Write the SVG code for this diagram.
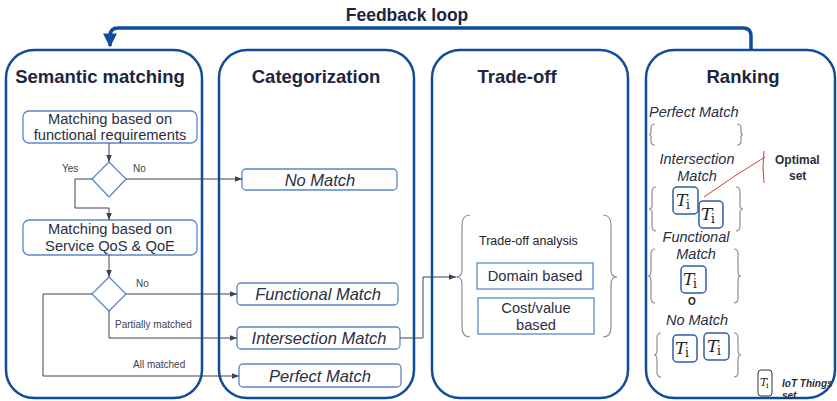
<svg xmlns="http://www.w3.org/2000/svg" width="837" height="401" viewBox="0 0 837 401">
<defs>
<style>
.cont{fill:#fff;stroke:#0f4c9c;stroke-width:2.5}
.box{fill:#fff;stroke:#5a88c8;stroke-width:1.3}
.title{font-family:"Liberation Sans",Arial,sans-serif;font-weight:bold;font-size:18.5px;fill:#1d2540;text-anchor:middle}
.t{font-family:"Liberation Sans",Arial,sans-serif;font-size:14.7px;fill:#2a2f3f;text-anchor:middle}
.ti{font-family:"Liberation Sans",Arial,sans-serif;font-size:16.5px;font-style:italic;fill:#2a2f3f;text-anchor:middle}
.tr{font-family:"Liberation Sans",Arial,sans-serif;font-size:14.5px;font-style:italic;fill:#2a2f3f;text-anchor:middle}
.lbl{font-family:"Liberation Sans",Arial,sans-serif;font-size:10px;fill:#3a3f50}
.con{fill:none;stroke:#3b4257;stroke-width:1}
.brace{fill:none;stroke:#8a8f9c;stroke-width:1.2}
.tbox{fill:#fff;stroke:#2f5fa5;stroke-width:1.5}
.math{font-family:"DejaVu Serif","Liberation Serif",serif;font-style:italic;font-size:17px;fill:#222}
.sub{font-family:"DejaVu Serif","Liberation Serif",serif;font-size:12px;fill:#222}
</style>
<marker id="ah" viewBox="0 0 10 10" refX="10" refY="5" markerWidth="7" markerHeight="7" orient="auto" markerUnits="userSpaceOnUse"><path d="M0,1 L10,5 L0,9 z" fill="#3b4257"/></marker>
<marker id="bh" viewBox="0 0 10 10" refX="9" refY="5" markerWidth="4" markerHeight="4" orient="auto"><path d="M0,0 L10,5 L0,10 z" fill="#0f4c9c"/></marker>
</defs>
<rect width="837" height="401" fill="#fff"/>

<g id="feedback">
<text x="407" y="21" class="title" style="font-size:17.5px">Feedback loop</text>
<path d="M751,50 L751,36 Q751,28 743,28 L118,28 Q110,28 110,36 L110,46" fill="none" stroke="#0f4c9c" stroke-width="3.5" marker-end="url(#bh)"/>
</g>

<g id="semantic">
<rect x="6" y="50" width="196" height="348" rx="28" class="cont"/>
<text x="100" y="83" class="title">Semantic matching</text>
</g>
<g id="categorization">
<rect x="219" y="50" width="195" height="348" rx="28" class="cont"/>
<text x="316" y="83" class="title">Categorization</text>
</g>
<g id="tradeoff">
<rect x="432" y="50" width="196" height="348" rx="28" class="cont"/>
<text x="517" y="83" class="title">Trade-off</text>
</g>
<g id="ranking">
<rect x="646" y="50" width="189" height="348" rx="28" class="cont"/>
<text x="743" y="83" class="title">Ranking</text>
</g>

<g id="box-func">
<rect x="23" y="111" width="174" height="32" rx="6" class="box"/>
<text x="110" y="124" class="t">Matching based on</text>
<text x="110" y="140" class="t">functional requirements</text>
</g>
<g id="diamond1"><path d="M109,162 L126,179 L109,197 L92,179 Z" class="box"/></g>
<g id="box-qos">
<rect x="23" y="220" width="174" height="35" rx="6" class="box"/>
<text x="110" y="234" class="t">Matching based on</text>
<text x="110" y="251" class="t">Service QoS &amp; QoE</text>
</g>
<g id="diamond2"><path d="M109,277 L126,294 L109,311 L92,294 Z" class="box"/></g>

<g id="nomatch"><rect x="242" y="169" width="155" height="21" rx="4" class="box"/><text x="320" y="185.5" class="ti">No Match</text></g>
<g id="funcmatch"><rect x="237" y="283" width="161" height="22" rx="4" class="box"/><text x="318" y="300" class="ti">Functional Match</text></g>
<g id="intmatch"><rect x="237" y="327" width="163" height="22" rx="4" class="box"/><text x="319" y="344" class="ti">Intersection Match</text></g>
<g id="perfmatch"><rect x="239" y="364" width="162" height="23" rx="4" class="box"/><text x="320" y="381.5" class="ti">Perfect Match</text></g>

<g id="tradeoff-analysis">
<path d="M470,215 Q462,215 462,225 L462,270 Q462,277 456,277 Q462,277 462,284 L462,327 Q462,337 470,337" class="brace"/>
<path d="M603,215 Q611,215 611,225 L611,270 Q611,277 617,277 Q611,277 611,284 L611,327 Q611,337 603,337" class="brace"/>
<text x="479" y="245" style="font-family:'Liberation Sans',Arial,sans-serif;font-size:12.5px;fill:#222">Trade-off analysis</text>
<rect x="477" y="263" width="116" height="26" class="box"/>
<text x="535" y="281" class="t">Domain based</text>
<rect x="478" y="298" width="116" height="36" class="box"/>
<text x="536" y="313" class="t">Cost/value</text>
<text x="536" y="330" class="t">based</text>
</g>

<g id="connectors">
<path d="M109,143 L109,162" class="con" marker-end="url(#ah)"/>
<path d="M92,179 L75,179 L75,208 L109,208 L109,220" class="con" marker-end="url(#ah)"/>
<path d="M126,179 L242,179" class="con" marker-end="url(#ah)"/>
<path d="M109,255 L109,277" class="con" marker-end="url(#ah)"/>
<path d="M126,294 L237,294" class="con" marker-end="url(#ah)"/>
<path d="M109,311 L109,338 L237,338" class="con" marker-end="url(#ah)"/>
<path d="M92,294 L43,294 L43,376 L239,376" class="con" marker-end="url(#ah)"/>
<path d="M400,338 L423,338 L423,277 L456,277" class="con" marker-end="url(#ah)"/>
<text x="62" y="172" class="lbl">Yes</text>
<text x="133" y="172" class="lbl">No</text>
<text x="136" y="287" class="lbl">No</text>
<text x="115" y="328" class="lbl">Partially matched</text>
<text x="133" y="368" class="lbl">All matched</text>
</g>

<g id="rank-perfect">
<text x="649" y="117" class="tr" style="text-anchor:start">Perfect Match</text>
<path d="M655,124 Q651,124 651,128 L651,132 Q651,134.5 649,134.5 Q651,134.5 651,137 L651,141 Q651,145 655,145" class="brace"/>
<path d="M737,124 Q741,124 741,128 L741,132 Q741,134.5 743,134.5 Q741,134.5 741,137 L741,141 Q741,145 737,145" class="brace"/>
</g>
<g id="rank-intersection">
<text x="697" y="164" class="tr">Intersection</text>
<text x="697" y="181" class="tr">Match</text>
<path d="M656,187 Q652,187 652,192 L652,205 Q652,209 649,209 Q652,209 652,213 L652,226 Q652,231 656,231" class="brace"/>
<path d="M736,187 Q740,187 740,192 L740,205 Q740,209 743,209 Q740,209 740,213 L740,226 Q740,231 736,231" class="brace"/>
<rect x="673" y="187" width="25" height="27" rx="4" class="tbox"/>
<text x="676" y="206" class="math">T</text><text x="686" y="209" class="sub">i</text>
<rect x="699" y="201" width="24" height="27" rx="4" class="tbox"/>
<text x="701" y="220" class="math">T</text><text x="711" y="223" class="sub">i</text>
</g>
<g id="optimal">
<path d="M704,197 Q735,175 765,157" fill="none" stroke="#d8383a" stroke-width="1"/>
<path d="M764,151 Q762,167 764,183" fill="none" stroke="#d8383a" stroke-width="1"/>
<text x="775" y="164" style="font-family:'Liberation Sans',Arial,sans-serif;font-size:12px;font-weight:bold;fill:#2a2f3f">Optimal</text>
<text x="789" y="180" style="font-family:'Liberation Sans',Arial,sans-serif;font-size:12px;font-weight:bold;fill:#2a2f3f">set</text>
</g>
<g id="rank-functional">
<text x="696" y="242" class="tr">Functional</text>
<text x="696" y="259" class="tr">Match</text>
<path d="M655,249 Q651,249 651,254 L651,271 Q651,276 648,276 Q651,276 651,281 L651,298 Q651,303 655,303" class="brace"/>
<path d="M734,249 Q738,249 738,254 L738,271 Q738,276 741,276 Q738,276 738,281 L738,298 Q738,303 734,303" class="brace"/>
<rect x="681" y="266" width="25" height="27" rx="4" class="tbox"/>
<text x="683" y="285" class="math">T</text><text x="693" y="288" class="sub">i</text>
<text x="692" y="305" style="font-family:'Liberation Sans',Arial,sans-serif;font-size:10px;font-weight:bold;fill:#222;text-anchor:middle">O</text>
</g>
<g id="rank-nomatch">
<text x="697" y="325" class="tr">No Match</text>
<path d="M661,333 Q657,333 657,338 L657,350 Q657,355 654,355 Q657,355 657,360 L657,372 Q657,377 661,377" class="brace"/>
<path d="M734,333 Q738,333 738,338 L738,350 Q738,355 741,355 Q738,355 738,360 L738,372 Q738,377 734,377" class="brace"/>
<rect x="673" y="335" width="24" height="27" rx="4" class="tbox"/>
<text x="675" y="354" class="math">T</text><text x="685" y="357" class="sub">i</text>
<rect x="704" y="333" width="25" height="27" rx="4" class="tbox"/>
<text x="707" y="352" class="math">T</text><text x="717" y="355" class="sub">i</text>
</g>
<g id="legend">
<rect x="758" y="370" width="14" height="26" rx="3" fill="#fff" stroke="#333" stroke-width="1"/>
<text x="760" y="386" class="math" style="font-size:11px">T</text><text x="766" y="388" class="sub" style="font-size:8px">i</text>
<text x="782" y="387" style="font-family:'Liberation Sans',Arial,sans-serif;font-size:10px;font-weight:bold;font-style:italic;fill:#2a2f3f">IoT Things</text>
<text x="782" y="399" style="font-family:'Liberation Sans',Arial,sans-serif;font-size:10px;font-weight:bold;font-style:italic;fill:#2a2f3f">set</text>
</g>
</svg>
